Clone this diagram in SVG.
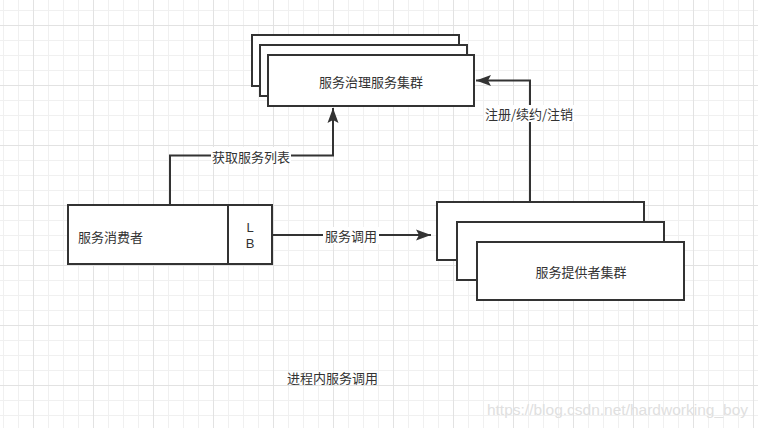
<svg xmlns="http://www.w3.org/2000/svg" width="758" height="428" viewBox="0 0 758 428">
<defs>
<pattern id="grid" patternUnits="userSpaceOnUse" x="33" y="25" width="60" height="60">
<path d="M15.5 0V60M30.5 0V60M45.5 0V60M0 15.5H60M0 30.5H60M0 45.5H60" stroke="#f0f0f0" stroke-width="1" fill="none"/>
<path d="M0.5 0V60M0 0.5H60" stroke="#e2e2e2" stroke-width="1" fill="none"/>
</pattern>
<marker id="arr" markerUnits="userSpaceOnUse" markerWidth="16" markerHeight="12" viewBox="0 -6 16 12" refX="15" refY="0" orient="auto">
<path d="M15 0L0 -5.5L3 0L0 5.5Z" fill="#333"/>
</marker>
<style>
.box{fill:#fff;stroke:#333;stroke-width:2}
.t{font-family:"Noto Sans CJK SC","Liberation Sans",sans-serif;font-size:13px;fill:#333;dominant-baseline:central}
.lat{font-family:"Liberation Sans",sans-serif;font-size:13px;fill:#333;text-anchor:middle}
.c{text-anchor:middle}
.edge{fill:none;stroke:#333;stroke-width:2}
.lbl{fill:#fff}
</style>
</defs>
<rect width="758" height="428" fill="#fff"/>
<rect width="758" height="428" fill="url(#grid)"/>

<g id="connectors">
<path class="edge" d="M170 205V155.5H333V108" marker-end="url(#arr)"/>
<rect class="lbl" x="211" y="147" width="80" height="17"/>
<text class="t c" x="251" y="156">获取服务列表</text>
<path class="edge" d="M272 235H431" marker-end="url(#arr)"/>
<rect class="lbl" x="323" y="227" width="56" height="17"/>
<text class="t c" x="351" y="235">服务调用</text>
<path class="edge" d="M530 202V80.5H476" marker-end="url(#arr)"/>
<rect class="lbl" x="484" y="105" width="90" height="17"/>
<text class="t c" x="529" y="113">注册/续约/注销</text>
</g>

<g id="governance-cluster">
<rect class="box" x="252" y="35" width="207" height="51"/>
<rect class="box" x="260" y="45" width="207" height="51"/>
<rect class="box" x="268" y="55" width="206" height="51"/>
<text class="t c" x="371" y="81">服务治理服务集群</text>
</g>

<g id="consumer">
<rect class="box" x="68" y="205" width="204" height="59"/>
<line x1="228" y1="205" x2="228" y2="264" stroke="#333" stroke-width="2"/>
<text class="t" x="78" y="236">服务消费者</text>
<text class="lat" x="250" y="232">L</text>
<text class="lat" x="250" y="248">B</text>
</g>

<g id="provider-cluster">
<rect class="box" x="437" y="202" width="207" height="58"/>
<rect class="box" x="457" y="222" width="207" height="58"/>
<rect class="box" x="477" y="242" width="207" height="58"/>
<text class="t c" x="581" y="271">服务提供者集群</text>
</g>

<g id="caption">
<text class="t" x="287" y="377">进程内服务调用</text>
</g>

<text x="748" y="415" text-anchor="end" font-family="Liberation Sans, Arial, sans-serif" font-size="15.5" fill="#e0e0e0">https://blog.csdn.net/hardworking_boy</text>
</svg>
